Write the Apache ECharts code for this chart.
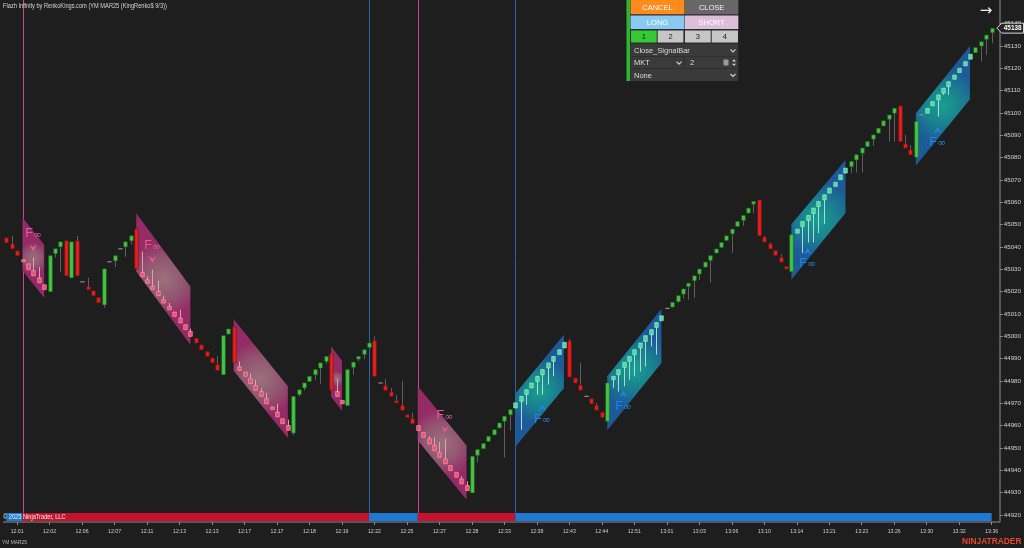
<!DOCTYPE html>
<html><head><meta charset="utf-8">
<script src="https://cdn.jsdelivr.net/npm/echarts@6/dist/echarts.min.js"></script>
<style>html,body{margin:0;padding:0;background:#1e1e1e;}#c{width:1024px;height:548px;}</style>
</head><body><div id="c"></div>
<script>
// ---------- DATA ----------
const timeLabels = ['12:01','12:02','12:06','12:07','12:11','12:13','12:13','12:17','12:17','12:18','12:19','12:22','12:25','12:27','12:28','12:33','12:38','12:43','12:44','12:51','13:01','13:03','13:06','13:10','13:14','13:21','13:23','13:26','13:30','13:32','13:36'];
const opens = [
45044.1,45041.4,45038.3,45034.3,45032.5,45029.4,45026.2,45023.1,45020.0,45037.0,
45040.1,45042.8,45026.2,45042.8,45024.4,45022.2,45020.4,45017.3,45014.1,45033.4,
45033.8,45039.2,45040.1,45042.8,45048.1,45028.5,45025.3,45022.3,45020.1,45016.4,
45013.4,45010.9,45008.2,45005.2,45002.2,44999.2,44996.2,44993.2,44990.3,44987.3,
44982.8,45001.0,45004.2,44986.3,44984.0,44981.0,44978.0,44975.3,44972.1,44968.4,
44966.1,44963.1,44960.1,44956.7,44973.9,44976.9,44979.8,44982.8,44985.8,44988.8,
44992.2,44975.3,44971.3,44969.0,44986.1,44989.8,44991.9,44995.0,44998.0,44979.1,
44977.9,44975.1,44971.2,44969.1,44964.9,44963.1,44960.0,44957.0,44954.2,44951.2,
44948.1,44945.1,44942.1,44939.1,44936.2,44933.2,44929.9,44946.7,44949.7,44953.0,
44955.9,44959.0,44962.0,44964.9,44967.9,44970.9,44974.0,44976.9,44979.8,44982.8,
44985.8,44988.8,44991.8,44994.8,44998.0,44981.3,44978.0,44973.1,44972.1,44969.1,
44966.0,44962.0,44980.6,44982.8,44986.1,44988.8,44991.8,44994.8,44997.7,45000.7,
45004.0,45007.0,45012.5,45013.1,45015.6,45018.9,45022.3,45024.9,45027.9,45031.0,
45034.0,45037.3,45039.8,45042.9,45045.9,45049.2,45051.9,45055.2,45059.2,45061.1,
45044.4,45041.4,45038.4,45035.3,45031.3,45029.0,45046.2,45049.2,45051.9,45055.0,
45058.1,45061.1,45064.1,45067.1,45070.1,45073.1,45076.0,45079.0,45082.0,45085.0,
45088.3,45091.0,45094.2,45097.2,45099.9,45103.2,45086.2,45083.5,45080.2,45099.2,
45099.9,45103.2,45105.9,45108.9,45111.8,45115.1,45118.1,45121.1,45124.1,45127.0,
45130.0,45133.0,45136.0];
const closes = [
45041.9,45039.2,45036.1,45033.4,45029.8,45027.1,45024.0,45020.9,45036.1,45039.2,
45042.3,45027.1,45042.3,45027.1,45024.4,45020.9,45018.2,45015.0,45030.2,45033.4,
45036.1,45039.2,45042.3,45045.0,45030.2,45026.7,45023.8,45020.9,45018.2,45014.9,
45011.9,45008.9,45006.0,45003.0,45000.0,44997.0,44994.0,44991.0,44988.1,44984.7,
45000.3,45003.3,44988.1,44984.7,44982.1,44978.8,44975.8,44973.1,44969.8,44967.2,
44963.9,44960.9,44957.9,44973.1,44976.1,44979.1,44982.1,44985.1,44988.1,44991.0,
44975.8,44973.1,44969.8,44985.1,44988.4,44991.0,44994.0,44997.0,44982.1,44979.1,
44975.8,44973.1,44970.2,44966.9,44963.7,44960.9,44957.8,44954.8,44951.8,44948.8,
44945.8,44942.9,44939.9,44936.9,44933.9,44930.9,44946.3,44949.3,44952.0,44955.2,
44958.2,44961.2,44964.2,44967.2,44970.2,44973.1,44976.1,44979.1,44982.1,44985.1,
44988.1,44991.0,44994.0,44997.3,44981.8,44979.1,44975.8,44973.1,44969.8,44966.9,
44963.7,44979.1,44982.1,44985.1,44988.4,44991.0,44994.0,44997.0,45000.3,45003.0,
45006.2,45009.2,45012.5,45015.2,45018.2,45021.2,45023.8,45027.1,45030.1,45033.2,
45036.1,45039.1,45042.0,45045.0,45048.0,45051.4,45054.1,45057.4,45060.4,45045.0,
45042.2,45039.2,45036.2,45033.2,45030.1,45045.5,45048.0,45051.4,45054.1,45057.4,
45060.4,45063.4,45066.4,45069.0,45072.3,45075.3,45078.3,45081.3,45084.3,45087.2,
45090.2,45093.2,45096.5,45099.1,45102.1,45087.2,45084.3,45081.3,45096.2,45099.2,
45102.1,45105.1,45108.1,45111.1,45114.0,45117.0,45120.0,45123.0,45126.3,45129.3,
45131.9,45134.9,45137.9];
// wick extremes (only bars that have a visible wick beyond the body)
const lowWicks = {9:45035.2,10:45028.9,18:45012.8,20:45031.1,22:45035.6,23:45041.0,53:44955.7,54:44973.1,55:44975.8,57:44980.6,58:44978.8,59:44987.7,64:44982.8,65:44988.8,66:44989.8,87:44943.6,92:44945.8,93:44957.9,95:44958.2,96:44969.4,98:44973.9,99:44973.9,100:44978.4,101:44982.1,112:44976.9,113:44975.3,114:44977.6,115:44980.6,116:44982.1,117:44984.3,118:44986.5,119:44995.5,120:44991.8,124:45014.9,125:45017.0,126:45016.4,127:45017.1,128:45025.3,130:45024.1,134:45037.3,136:45049.5,138:45055.2,147:45037.3,148:45042.0,149:45042.0,150:45046.2,151:45050.4,156:45073.1,157:45073.4,158:45073.4,160:45085.3,163:45087.2,164:45087.2,172:45098.4,173:45108.1,174:45108.1,180:45123.0,181:45126.0,182:45131.2};
const highWicks = {1:45045.0,5:45035.2,6:45031.1,13:45045.0,15:45026.2,25:45038.0,26:45026.8,27:45029.8,28:45024.9,29:45018.2,30:45014.9,32:45011.9,34:45003.4,39:44991.0,42:45004.8,43:44988.8,45:44983.6,46:44980.6,47:44976.9,48:44974.8,50:44969.8,52:44962.7,60:44993.2,61:44981.0,68:45000.0,70:44980.9,71:44976.9,72:44973.9,73:44980.1,75:44965.7,78:44955.2,79:44954.9,80:44952.7,81:44954.2,84:44937.3,85:44935.1,104:44998.9,106:44988.1,109:44970.2,140:45045.0,141:45042.0,143:45036.8,166:45090.2,167:45085.7};
const yTickValues = [44920,44930,44940,44950,44960,44970,44980,44990,45000,45010,45020,45030,45040,45050,45060,45070,45080,45090,45100,45110,45120,45130,45140];
const lastPrice = 45138;
// Flazh channels
const chStart = [3,24,42,60,76,94,111,145,168];
const chEnd   = [7,34,52,62,85,103,121,155,178];
const chTopL  = [45053.1,45055.1,45007.7,44995.4,44977.6,44974.3,44982.1,45050.2,45099.9];
const chBotL  = [45029.4,45029.0,44984.6,44973.0,44953.4,44950.5,44957.9,45025.3,45076.5];
const chTopR  = [45041.0,45022.3,44977.6,44989.1,44951.1,45000.7,45012.2,45079.0,45130.0];
const chBotR  = [45017.3,44996.2,44954.5,44966.7,44926.9,44976.9,44988.1,45055.2,45106.2];
const chDir   = ['down','down','down','down','down','up','up','up','up'];
// signal lines & trend band
const sigLineIdx = [3,67,76,94];
const sigLineDir = ['down','up','down','up'];
const bandStart = [0,3,67,76,94];
const bandEnd   = [3,67,76,94,182];
const bandDir   = ['up','down','up','down','up'];
// F∞ signal labels
const markIdx   = [5.0,27.1,81.1,99.0,114.1,148.0,172.1];
const markFPrice = [45045.9,45040.5,44964.5,44962.8,44968.6,45032.8,45086.8];
const markArrowPrice = [45039.6,45034.5,44958.4,44968.1,44974.1,45038.0,45092.3];
const markDir = ['down','down','down','up','up','up','up'];

// ---------- CHART ----------
const NCAT = 184;
const cats = Array.from({length:NCAT},(_,i)=>String(i));
const isLbl = (i)=> i>=2 && (i-2)%6===0 && (i-2)/6 < timeLabels.length;
const candleData = opens.map((o,i)=>{
  const c = closes[i];
  const l = (lowWicks[i]!==undefined)? lowWicks[i] : Math.min(o,c);
  const h = (highWicks[i]!==undefined)? highWicks[i] : Math.max(o,c);
  return [i,o,c,l,h];
});
function channelOf(i){
  for (let k=0;k<chStart.length;k++){ if(i>=chStart[k] && i<=chEnd[k]) return chDir[k]; }
  return null;
}
const SANS = '"Liberation Sans",Arial,sans-serif';
function T(x,y,text,fill,font,align,va,sx){
  const el = {type:'text', x:x, y:y, z:100, style:{text:text, fill:fill, font:font, align:align||'left', textAlign:align||'left', verticalAlign:va||'middle', textVerticalAlign:va||'middle'}};
  if (sx) el.scaleX = sx;
  return el;
}

function renderCandle(params, api){
  const i = api.value(0), o = api.value(1), c = api.value(2), l = api.value(3), h = api.value(4);
  const po = api.coord([i,o]), pc = api.coord([i,c]), pl = api.coord([i,l]), ph = api.coord([i,h]);
  const cx = Math.round(po[0]) + 0.5;
  const ch = channelOf(i);
  const tall = Math.abs(c-o) > 6;
  const up = c > o;
  const kids = [];
  if (o === c){
    kids.push({type:'line', shape:{x1:cx-2.2,y1:po[1],x2:cx+2.2,y2:po[1]}, style:{stroke:'#8c8c8c', lineWidth:1.2}});
    return {type:'group', children:kids};
  }
  let fill, stroke = null, wick = '#5e5e5e';
  if (ch && !tall){
    if (ch==='down'){ fill = up ? '#5ad27a' : '#f0506e'; stroke = '#ffa6b6'; wick = '#d9a2b6'; }
    else { fill = up ? '#48dc9c' : '#f05050'; stroke = '#a6f2d2'; wick = '#a9dcd6'; }
  } else {
    fill = up ? '#44c644' : '#e61e1e';
    stroke = up ? '#1f6e1f' : '#7a1010';
  }
  const top = Math.min(po[1],pc[1]), bot = Math.max(po[1],pc[1]);
  if (ph[1] < top - 0.5 || pl[1] > bot + 0.5){
    kids.push({type:'line', shape:{x1:cx,y1:ph[1],x2:cx,y2:pl[1]}, style:{stroke:wick, lineWidth:1}});
  }
  kids.push({type:'rect', shape:{x:cx-1.8, y:top, width:3.6, height:Math.max(1.2, bot-top)}, style:{fill:fill, stroke:stroke, lineWidth:0.6}});
  return {type:'group', children:kids};
}

function renderChannel(params, api){
  const s = api.value(0), e = api.value(1);
  const pts = [api.coord([s,api.value(2)]), api.coord([e,api.value(4)]), api.coord([e,api.value(5)]), api.coord([s,api.value(3)])];
  const dir = chDir[params.dataIndex];
  const grad = dir==='down'
    ? new echarts.graphic.RadialGradient(0.5,0.5,0.7,[{offset:0,color:'rgba(166,120,132,0.92)'},{offset:0.55,color:'rgba(156,90,120,0.92)'},{offset:1,color:'rgba(154,44,106,0.95)'}])
    : new echarts.graphic.RadialGradient(0.5,0.5,0.7,[{offset:0,color:'rgba(24,168,148,0.95)'},{offset:0.55,color:'rgba(26,130,150,0.95)'},{offset:1,color:'rgba(30,92,160,0.95)'}]);
  return {type:'polygon', shape:{points:pts}, style:{fill:grad}};
}

function renderSigLine(params, api){
  const p = api.coord([api.value(0), api.value(1)]);
  const cs = params.coordSys;
  const x = Math.round(p[0]) + 0.5;
  const col = sigLineDir[params.dataIndex]==='down' ? '#cc4590' : '#2d62a6';
  return {type:'line', shape:{x1:x,y1:cs.y,x2:x,y2:cs.y+cs.height-8}, style:{stroke:col, lineWidth:1}};
}

function renderBand(params, api){
  const cs = params.coordSys;
  const x0 = api.coord([api.value(0), api.value(2)])[0];
  const x1 = api.coord([api.value(1), api.value(2)])[0];
  const col = bandDir[params.dataIndex]==='up' ? '#1f78d4' : '#c4122f';
  return {type:'rect', shape:{x:x0, y:cs.y+cs.height-8, width:x1-x0, height:8}, style:{fill:col}};
}

function renderMark(params, api){
  const k = params.dataIndex;
  const pf = api.coord([api.value(0), api.value(1)]);
  const pa = api.coord([api.value(0), api.value(2)]);
  const down = markDir[k]==='down';
  const col = down ? '#e45a9c' : '#2184e2';
  const ax = pa[0], ay = pa[1];
  const pts = down
    ? [[ax-3.8,ay-3.4],[ax,ay-0.6],[ax+3.8,ay-3.4],[ax,ay+3.6]]
    : [[ax-3.8,ay+3.4],[ax,ay+0.6],[ax+3.8,ay+3.4],[ax,ay-3.6]];
  return {type:'group', children:[
    T(pf[0]-0.6, pf[1], 'F', col, '12.5px ' + SANS, 'right'),
    T(pf[0]-0.4, pf[1]+1.2, '\u221E', col, '10.5px "DejaVu Sans",sans-serif', 'left'),
    {type:'polygon', shape:{points:pts}, style:{fill:col}}
  ]};
}

function renderPriceBox(params, api){
  const cs = params.coordSys;
  const y = api.coord([api.value(0), api.value(1)])[1];
  const xr = cs.x + cs.width;
  const pts = [[xr-3,y],[xr+2,y-5],[1023.5,y-5],[1023.5,y+5],[xr+2,y+5]];
  return {type:'group', children:[
    {type:'polygon', shape:{points:pts}, style:{fill:'#262626', stroke:'#d8d8d8', lineWidth:1}},
    T(xr+4, y+0.5, String(api.value(1)), '#ffffff', 'bold 6.4px ' + SANS, 'left')
  ]};
}

function btn(x,y,w,h,bg,label,fg){
  return [
    {type:'rect', z:100, shape:{x:x,y:y,width:w,height:h}, style:{fill:bg}},
    T(x+w/2, y+h/2+0.5, label, fg, '7.5px ' + SANS, 'center')
  ];
}
function chevron(x,y){
  return {type:'polyline', z:100, shape:{points:[[x-2.5,y-1.2],[x,y+1.3],[x+2.5,y-1.2]]}, style:{stroke:'#d0d0d0', lineWidth:1.2, fill:null}};
}
function R(x,y,w,h,fill){ return {type:'rect', z:100, shape:{x:x,y:y,width:w,height:h}, style:{fill:fill}}; }
const UIF = '7.5px ' + SANS;
const graphics = [].concat(
  [T(3, 6, 'Flazh Infinity by RenkoKings.com (YM MAR25 (KingRenko$ 9/3))', '#d4d4d4', '7px ' + SANS, 'left', 'middle', 0.81)],
  [R(626.5,0,112,81,'#2c2c2c'), R(626.5,0,3.5,81,'#2fb52f')],
  btn(630.5,0,54,14.3,'#ff8b1c','CANCEL','#ffffff'),
  btn(685,0,53.3,14.3,'#676767','CLOSE','#f2f2f2'),
  btn(630.5,15.5,54,13.5,'#88caf4','LONG','#ffffff'),
  btn(685,15.5,53.3,13.5,'#dcbedb','SHORT','#ffffff'),
  btn(631,30.5,25.7,12,'#36c936','1','#1a1a1a'),
  btn(657.7,30.5,25.7,12,'#c6c6c6','2','#1a1a1a'),
  btn(685,30.5,25.7,12,'#c6c6c6','3','#1a1a1a'),
  btn(711.7,30.5,26.3,12,'#c6c6c6','4','#1a1a1a'),
  [R(630.5,44,107.5,12.3,'#3a3a3a'),
   T(634, 50.5, 'Close_SignalBar', '#dcdcdc', UIF, 'left'), chevron(733,50.5),
   R(630.5,57,53.5,11.3,'#3a3a3a'),
   T(634, 63, 'MKT', '#dcdcdc', UIF, 'left'), chevron(679,62.8),
   R(685,57,53,11.3,'#3a3a3a'),
   T(690, 63, '2', '#dcdcdc', UIF, 'left'),
   R(723.5,59.5,5,6,'#9a9a9a'),
   {type:'polygon', z:100, shape:{points:[[732,61.5],[734,59.3],[736,61.5]]}, style:{fill:'#cfcfcf'}},
   {type:'polygon', z:100, shape:{points:[[732,63.8],[734,66],[736,63.8]]}, style:{fill:'#cfcfcf'}},
   R(630.5,69,107.5,12,'#3a3a3a'),
   T(634, 75.5, 'None', '#dcdcdc', UIF, 'left'), chevron(733,75.2)],
  [T(986, 11.5, '\u2192', '#ececec', '15px "DejaVu Sans",sans-serif', 'center')],
  [T(3, 517, '\u00A9 2025 NinjaTrader, LLC', '#f0f0f0', '7px ' + SANS, 'left', 'middle', 0.81)],
  [T(2, 542, 'YM MAR25', '#bdbdbd', '6px ' + SANS, 'left', 'middle', 0.81)],
  [T(1021.5, 542, 'NINJATRADER', '#e8462a', 'bold 8.4px ' + SANS, 'right')]
);

const chart = echarts.init(document.getElementById('c'), null, {renderer:'canvas', width:1024, height:548});
chart.setOption({
  backgroundColor:'#1e1e1e',
  animation:false,
  grid:{left:3.59, right:23.13, top:0, bottom:27, containLabel:false},
  xAxis:{type:'category', data:cats, boundaryGap:true, offset:1,
    axisLine:{show:true, lineStyle:{color:'#6a6a6a', width:1.5}},
    axisTick:{show:true, alignWithLabel:true, interval:(i)=>isLbl(i), length:3, lineStyle:{color:'#8a8a8a'}},
    axisLabel:{interval:(i)=>isLbl(i), formatter:(v,i)=> isLbl(i)? timeLabels[(i-2)/6] : '', color:'#cfcfcf', fontSize:5.2, fontFamily:'Liberation Sans', margin:7},
    splitLine:{show:false}},
  yAxis:{type:'value', position:'right', min:44917.31, max:45150.6, scale:true,
    axisLine:{show:true, lineStyle:{color:'#6a6a6a', width:1.5}},
    axisTick:{show:true, length:3, customValues:yTickValues, lineStyle:{color:'#8a8a8a'}},
    axisLabel:{customValues:yTickValues, formatter:(v)=>String(Math.round(v)), color:'#d0d0d0', fontSize:6.2, fontFamily:'Liberation Sans', margin:4},
    splitLine:{show:false}},
  graphic:{elements:graphics},
  series:[
    {type:'custom', name:'lines', renderItem:renderSigLine, data:sigLineIdx.map(i=>[i,45000]), encode:{x:0,y:1}, z:1, silent:true},
    {type:'custom', name:'channels', renderItem:renderChannel, data:chStart.map((s,k)=>[s,chEnd[k],chTopL[k],chBotL[k],chTopR[k],chBotR[k]]), encode:{x:[0,1], y:[2,3,4,5]}, z:2, silent:true},
    {type:'custom', name:'candles', renderItem:renderCandle, data:candleData, encode:{x:0, y:[1,2,3,4]}, z:3, silent:true},
    {type:'custom', name:'marks', renderItem:renderMark, data:markIdx.map((x,k)=>[x,markFPrice[k],markArrowPrice[k]]), encode:{x:0,y:[1,2]}, z:4, silent:true},
    {type:'custom', name:'band', renderItem:renderBand, data:bandStart.map((s,k)=>[s,bandEnd[k],45000]), encode:{x:[0,1],y:2}, z:5, silent:true},
    {type:'custom', name:'price', renderItem:renderPriceBox, data:[[182,lastPrice]], encode:{x:0,y:1}, z:10, silent:true}
  ]
});
</script></body></html>
